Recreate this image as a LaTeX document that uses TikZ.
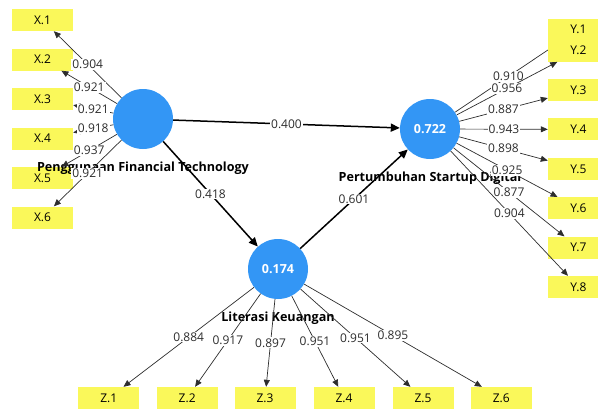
\documentclass[tikz,border=0pt]{standalone}
\usepackage{fontspec}
\setmainfont{Open Sans}
\usetikzlibrary{arrows.meta,positioning,backgrounds}
\definecolor{lvblue}{RGB}{51,150,245}
\definecolor{mvyellow}{RGB}{250,248,90}
\definecolor{pathgray}{RGB}{45,45,45}

\begin{document}
\begin{tikzpicture}[x=1pt,y=-1pt,
  latent/.style={circle,fill=lvblue,minimum size=60pt,inner sep=0pt,text=white,font=\fontsize{12.5}{14}\selectfont\bfseries},
  indicator/.style={rectangle,fill=mvyellow,minimum width=61pt,minimum height=22pt,inner sep=0pt,font=\fontsize{12}{14}\selectfont},
  lvname/.style={inner sep=0pt,font=\fontsize{12.6}{15}\selectfont\bfseries},
  innerpath/.style={line width=1.5pt,-{Triangle[length=9pt,width=8pt]}},
  outerpath/.style={draw=pathgray,line width=0.7pt,-{Triangle[length=7pt,width=6pt]}},
  coef/.style={fill=white,inner sep=1pt,text=pathgray,font=\fontsize{12}{14}\selectfont}]

  \clip (0,0) rectangle (598,408);

  % latent variables
  \node[latent] (fintech) at (143,119) {};
  \node[latent] (startup) at (430,129) {0.722};
  \node[latent] (literasi) at (278,269) {0.174};

  % indicators
  \foreach \i/\y in {1/20,2/59.5,3/99,4/138.5,5/178,6/217.5}
    \node[indicator] (x\i) at (42.5,\y) {X.\i};
  \foreach \i/\y in {1/29.5,2/50.7,3/90,4/129.4,5/168.8,6/208.2,7/247.6,8/287}
    \node[indicator] (y\i) at (578.5,\y) {Y.\i};
  \foreach \i/\x in {1/108.8,2/187.2,3/265,4/344,5/423,6/501.2}
    \node[indicator] (z\i) at (\x,398) {Z.\i};

  \node[lvname,below=13pt of fintech] (fintechname) {Penggunaan Financial Technology};
  \node[lvname,below=13pt of startup] (startupname) {Pertumbuhan Startup Digital};
  \node[lvname,below=13pt of literasi] (literasiname) {Literasi Keuangan};

  % inner model
  \draw[innerpath] (fintech) -- node[coef] {0.400} (startup);
  \draw[innerpath] (fintech) -- node[coef] {0.418} (literasi);
  \draw[innerpath] (literasi) -- node[coef] {0.601} (startup);

  % outer model
  \foreach \i/\v in {1/0.904,2/0.921,3/0.921,4/0.918,5/0.937,6/0.921}
    \draw[outerpath] (fintech) -- node[coef] {\v} (x\i);
  \begin{scope}[on background layer]
    \draw[outerpath] (startup) -- node[coef] {0.910} (y1);
  \end{scope}
  \foreach \i/\v in {2/0.956,3/0.887,4/0.943,5/0.898,6/0.925,7/0.877,8/0.904}
    \draw[outerpath] (startup) -- node[coef] {\v} (y\i);
  \foreach \i/\v in {1/0.884,2/0.917,3/0.897,4/0.951,5/0.951,6/0.895}
    \draw[outerpath] (literasi) -- node[coef] {\v} (z\i);

\end{tikzpicture}
\end{document}
